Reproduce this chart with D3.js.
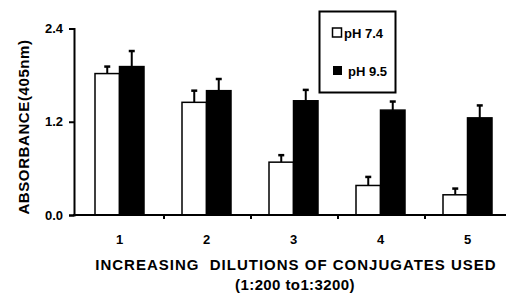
<!DOCTYPE html>
<html><head><meta charset="utf-8">
<script src="https://cdn.jsdelivr.net/npm/d3@7"></script>
<style>body{margin:0;background:#fff}svg{display:block}text{font-family:"Liberation Sans",Arial,sans-serif;font-weight:bold;fill:#000}</style>
</head><body><svg id="c" width="507" height="294"></svg>
<script>
const categories = ["1","2","3","4","5"];
const seriesNames = ["pH 7.4","pH 9.5"];
const ph74 = [1.82, 1.45, 0.68, 0.38, 0.26];
const ph74Err = [0.09, 0.15, 0.09, 0.11, 0.08];
const ph95 = [1.91, 1.60, 1.47, 1.35, 1.25];
const ph95Err = [0.20, 0.15, 0.14, 0.11, 0.16];
const yTicks = [0, 1.2, 2.4];

const svg = d3.select("#c");
const x = d3.scaleBand().domain(categories).range([77, 512]);
const y = d3.scaleLinear().domain([0, 2.4]).range([215, 28.5]);
const sub = d3.scaleBand().domain(seriesNames).range([18, 67]);
const fills = ["#fff", "#000"];
const series = [{name: seriesNames[0], v: ph74, e: ph74Err}, {name: seriesNames[1], v: ph95, e: ph95Err}];

// bars
series.forEach((s, si) => {
  const g = svg.append("g");
  categories.forEach((c, i) => {
    const x0 = x(c) + sub(s.name);
    const w = sub.bandwidth();
    const cx = x0 + w / 2;
    g.append("line").attr("x1", cx).attr("x2", cx).attr("y1", y(s.v[i])).attr("y2", y(s.v[i] + s.e[i]))
      .attr("stroke", "#000").attr("stroke-width", 2);
    g.append("line").attr("x1", cx - 3).attr("x2", cx + 3).attr("y1", y(s.v[i] + s.e[i])).attr("y2", y(s.v[i] + s.e[i]))
      .attr("stroke", "#000").attr("stroke-width", 2.5);
    g.append("rect").attr("x", x0).attr("y", y(s.v[i])).attr("width", w).attr("height", y(0) - y(s.v[i]))
      .attr("fill", fills[si]).attr("stroke", "#000").attr("stroke-width", 1.5);
  });
});

// y axis
const ya = svg.append("g").attr("transform", "translate(74,0)")
  .call(d3.axisLeft(y).tickValues(yTicks).tickFormat(d3.format(".1f")).tickSize(5).tickPadding(6));
ya.select(".domain").attr("stroke-width", 2);
ya.selectAll(".tick line").attr("stroke-width", 2);
ya.selectAll("text").style("font-size", "13px").style("font-family", "'Liberation Sans',Arial,sans-serif").style("font-weight", "bold");

// x axis line and ticks at group boundaries
svg.append("line").attr("x1", 73).attr("x2", 506).attr("y1", y(0)).attr("y2", y(0)).attr("stroke", "#000").attr("stroke-width", 2);
categories.slice(1).forEach(c => {
  svg.append("line").attr("x1", x(c)).attr("x2", x(c)).attr("y1", y(0)).attr("y2", y(0) + 4).attr("stroke", "#000").attr("stroke-width", 2);
});
categories.forEach(c => {
  svg.append("text").attr("x", x(c) + sub(seriesNames[1])).attr("y", 244).attr("text-anchor", "middle")
    .style("font-size", "13px").text(c);
});

// titles
svg.append("text").attr("transform", "translate(29,127) rotate(-90)").attr("text-anchor", "middle")
  .style("font-size", "15px").style("letter-spacing", "0.6px").text("ABSORBANCE(405nm)");
svg.append("text").attr("x", 296).attr("y", 270).attr("text-anchor", "middle").style("font-size", "15px")
  .style("letter-spacing", "1px").style("white-space", "pre").text("INCREASING  DILUTIONS OF CONJUGATES USED");
svg.append("text").attr("x", 295).attr("y", 290).attr("text-anchor", "middle").style("font-size", "15px")
  .style("letter-spacing", "0.4px").text("(1:200 to1:3200)");

// legend
const lg = svg.append("g");
lg.append("rect").attr("x", 319.5).attr("y", 11.5).attr("width", 76).attr("height", 81).attr("fill", "#fff").attr("stroke", "#000").attr("stroke-width", 2);
lg.append("rect").attr("x", 332.5).attr("y", 28).attr("width", 9).attr("height", 9).attr("fill", "#fff").attr("stroke", "#000").attr("stroke-width", 1.5);
lg.append("text").attr("x", 344).attr("y", 37.5).style("font-size", "13px").text(seriesNames[0]);
lg.append("rect").attr("x", 333).attr("y", 66).attr("width", 9).attr("height", 9).attr("fill", "#000");
lg.append("text").attr("x", 348).attr("y", 75.5).style("font-size", "13px").text(seriesNames[1]);
</script></body></html>
